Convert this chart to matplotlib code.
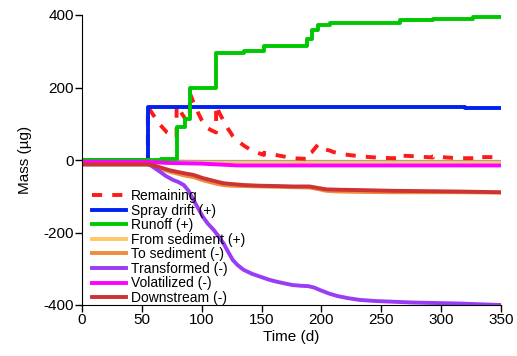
import matplotlib
matplotlib.use("Agg")
import matplotlib.pyplot as plt

plt.rcParams['font.family'] = ['Liberation Sans', 'DejaVu Sans']
plt.rcParams['axes.unicode_minus'] = False

# Remaining mass in the water column (ug)
remaining_t = [0, 55, 55, 60, 65, 71, 75, 79, 79, 83, 86, 90, 90, 93, 97, 100, 104, 108, 112,
               112, 115, 118, 122, 126, 131, 136, 142, 150, 152, 152, 158, 165, 176, 188, 188,
               192, 196, 197, 200, 207, 210, 218, 225, 233, 241, 250, 260, 266, 266, 274, 283,
               293, 293, 300, 309, 318, 327, 327, 336, 343, 350]
remaining_v = [0, 0, 147, 122, 98, 76, 68, 62, 150, 130, 115, 108, 185, 160, 130, 110, 90, 82, 76,
               150, 128, 110, 86, 66, 50, 38, 26, 16, 14, 20, 16, 12, 5, 3, 14,
               22, 38, 42, 32, 26, 22, 16, 13, 10, 8, 6, 5, 5, 12, 11, 9,
               7, 10, 8, 6, 5, 5, 8, 8, 8, 7]

# Cumulative inputs (step changes)
spray_t = [0, 55, 300, 320, 350]
spray_v = [0, 147, 146, 144, 144]

runoff_t = [0, 66, 79, 86, 90, 112, 135, 152, 188, 192, 197, 207, 266, 293, 327, 350]
runoff_v = [0, 2, 92, 113, 198, 296, 300, 314, 333, 360, 372, 377, 386, 390, 395, 396]

from_sed_t = [0, 55, 100, 350]
from_sed_v = [-2, -2, -5, -5]

# Cumulative losses
to_sed_t = [0, 55, 60, 65, 73, 80, 86, 93, 101, 107, 113, 118, 124, 135, 149, 165, 176, 190,
            197, 204, 215, 232, 260, 288, 316, 350]
to_sed_v = [-12, -12, -16, -23, -32, -38, -43, -47, -56, -61, -66, -69, -71, -72, -73, -74, -75, -76,
            -80, -85, -87, -88, -89, -89, -89, -90]

transf_t = [0, 55, 57, 65, 70, 76, 80, 85, 89, 93, 97, 101, 105, 110, 114, 118, 122, 126, 130,
            135, 142, 149, 156, 163, 170, 176, 183, 189, 194, 199, 206, 213, 222, 232, 245, 260,
            275, 288, 302, 316, 332, 350]
transf_v = [-12, -12, -14, -32, -44, -55, -60, -69, -85, -110, -133, -157, -175, -193, -210, -229,
            -253, -276, -290, -303, -314, -322, -330, -336, -341, -345, -347, -348, -352, -359,
            -368, -375, -381, -386, -389, -391, -393, -394, -395, -396, -398, -400]

volat_t = [0, 55, 70, 100, 130, 350]
volat_v = [-5, -5, -8, -10, -15, -15]

down_t = [0, 55, 60, 65, 73, 80, 86, 93, 101, 107, 113, 118, 124, 135, 149, 165, 176, 190, 197,
          204, 215, 232, 260, 288, 316, 350]
down_v = [-12, -12, -15, -20, -28, -33, -37, -41, -50, -55, -60, -64, -66, -69, -71, -72, -73, -73,
          -77, -81, -82, -83, -85, -86, -87, -89]

fig = plt.figure(figsize=(5.17, 3.56), dpi=100)
ax = fig.add_axes([82 / 517, 1 - 305 / 356, 419 / 517, 290 / 356])

lw = 2.8
ax.axhline(0, color='#a0a0a0', lw=0.8, zorder=1)
ax.plot(remaining_t, remaining_v, color='#ff1a1a', lw=lw, ls=(0, (2.6, 2.6)), label='Remaining', zorder=2)
ax.plot(spray_t, spray_v, color='#0022ee', lw=lw, drawstyle='steps-post', label='Spray drift (+)', zorder=2)
ax.plot(runoff_t, runoff_v, color='#00c800', lw=lw, drawstyle='steps-post', label='Runoff (+)', zorder=2)
ax.plot(from_sed_t, from_sed_v, color='#ffc866', lw=lw, label='From sediment (+)', zorder=0.8)
ax.plot(to_sed_t, to_sed_v, color='#f08c3c', lw=lw, label='To sediment (-)', zorder=2)
ax.plot(transf_t, transf_v, color='#9a3cf5', lw=lw, label='Transformed (-)', zorder=2)
ax.plot(volat_t, volat_v, color='#ff00ff', lw=lw, label='Volatilized (-)', zorder=2)
ax.plot(down_t, down_v, color='#cc3333', lw=lw, label='Downstream (-)', zorder=2)

ax.set_xlim(0, 350)
ax.set_ylim(-400, 400)
ax.set_xticks(range(0, 351, 50))
ax.set_yticks(range(-400, 401, 200))
ax.spines['top'].set_visible(False)
ax.spines['right'].set_visible(False)
ax.tick_params(direction='out', length=5, width=1, labelsize=11, pad=1)
ax.set_xlabel('Time (d)', fontsize=11, labelpad=2)
ax.set_ylabel('Mass (µg)', fontsize=11, labelpad=8)

leg = ax.legend(loc='lower left', bbox_to_anchor=(0.025, 0.0), frameon=False, fontsize=10,
                handlelength=2.4, handletextpad=0.35, labelspacing=0.04, borderpad=0,
                borderaxespad=0)

fig.savefig('out.png', dpi=100)
